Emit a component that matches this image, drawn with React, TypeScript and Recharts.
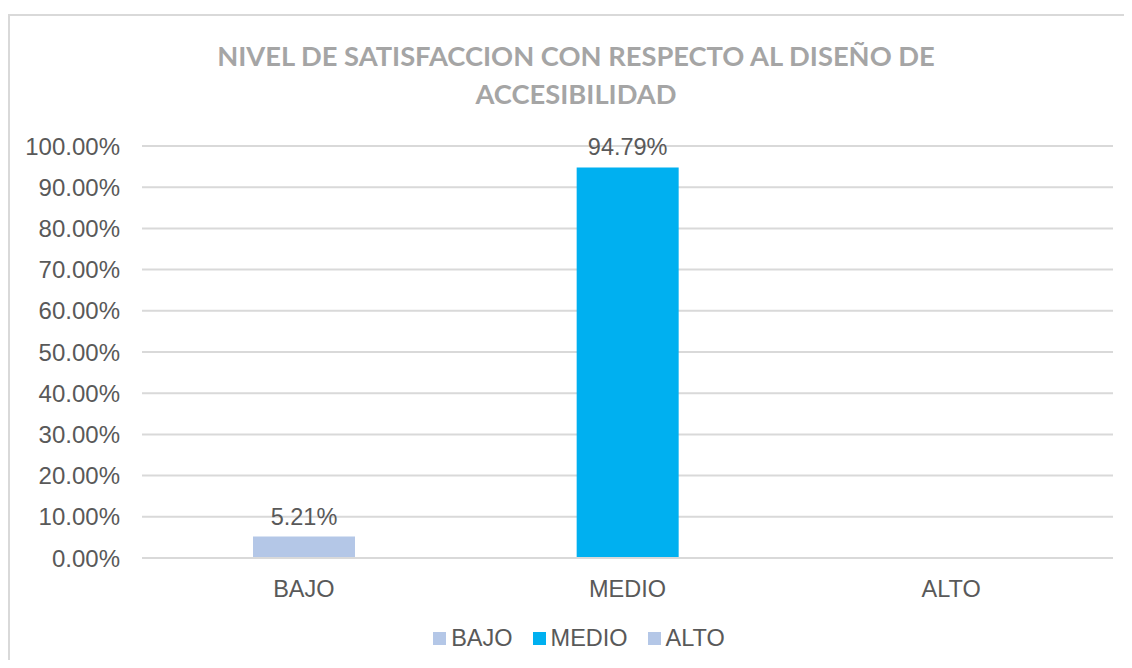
import React from 'react';
import { BarChart, Bar, XAxis, YAxis, CartesianGrid, Legend, LabelList } from 'recharts';

const categories = ['BAJO', 'MEDIO', 'ALTO'];
const values = [5.21, 94.79, 0];
const colors = ['#B4C7E7', '#00B0F0', '#B4C7E7'];
const yTicks = [0, 10, 20, 30, 40, 50, 60, 70, 80, 90, 100];
const titleLines = ['NIVEL DE SATISFACCION CON RESPECTO AL DISEÑO DE', 'ACCESIBILIDAD'];

// one row per category, each series only filled in its own category (stacked so bars stay centred)
const data = categories.map((c, i) => {
  const row: Record<string, string | number | null> = { name: c };
  categories.forEach((s, j) => {
    row[s] = i === j ? values[j] : null;
  });
  return row;
});

const textColor = '#595959';
const font = '"Liberation Sans", Arial, sans-serif';

function renderLegend() {
  return (
    <div style={{ display: 'flex', justifyContent: 'center', alignItems: 'center', fontFamily: font, fontSize: 23.5, color: textColor }}>
      {categories.map((c, i) => (
        <div key={c} style={{ display: 'flex', alignItems: 'center', marginRight: i < categories.length - 1 ? 20 : 0 }}>
          <span style={{ width: 13, height: 13, background: colors[i], display: 'inline-block', marginRight: 5 }} />
          <span>{c}</span>
        </div>
      ))}
    </div>
  );
}

export default function App() {
  return (
    <div style={{ position: 'relative', width: 1124, height: 652, overflow: 'hidden', fontFamily: font }}>
      <div style={{ position: 'absolute', left: 0, top: 6, width: 1140, height: 700, border: '2px solid #D9D9D9', boxSizing: 'border-box' }} />
      <div style={{ position: 'absolute', left: 0, top: 29, width: 1136, textAlign: 'center', fontFamily: 'Lato, sans-serif', fontWeight: 700, fontSize: 27.3, lineHeight: '38px', color: '#A5A5A5' }}>
        {titleLines.map((t) => (
          <div key={t}>{t}</div>
        ))}
      </div>
      <BarChart width={1124} height={652} data={data} margin={{ top: 138, right: 19, bottom: 5, left: 0 }}>
        <CartesianGrid vertical={false} stroke="#D9D9D9" strokeWidth={2} />
        <XAxis dataKey="name" axisLine={{ stroke: '#D9D9D9', strokeWidth: 2 }} tickLine={false} height={67} tickMargin={16}
          tick={{ fill: textColor, fontSize: 23.5, fontFamily: font }} />
        <YAxis width={134} domain={[0, 100]} ticks={yTicks} axisLine={false} tickLine={false} tickMargin={16}
          tickFormatter={(v: number) => v.toFixed(2) + '%'} tick={{ fill: textColor, fontSize: 24, fontFamily: font }} />
        <Legend verticalAlign="bottom" height={30} content={renderLegend} wrapperStyle={{ left: 0, width: 1142 }} />
        {categories.map((s, j) => (
          <Bar key={s} dataKey={s} stackId="a" fill={colors[j]} barSize={102} isAnimationActive={false}>
            <LabelList dataKey={s} position="top" offset={12} fill={textColor} fontSize={23.5} fontFamily={font}
              formatter={(v: any) => (v ? Number(v).toFixed(2) + '%' : '')} />
          </Bar>
        ))}
      </BarChart>
    </div>
  );
}
